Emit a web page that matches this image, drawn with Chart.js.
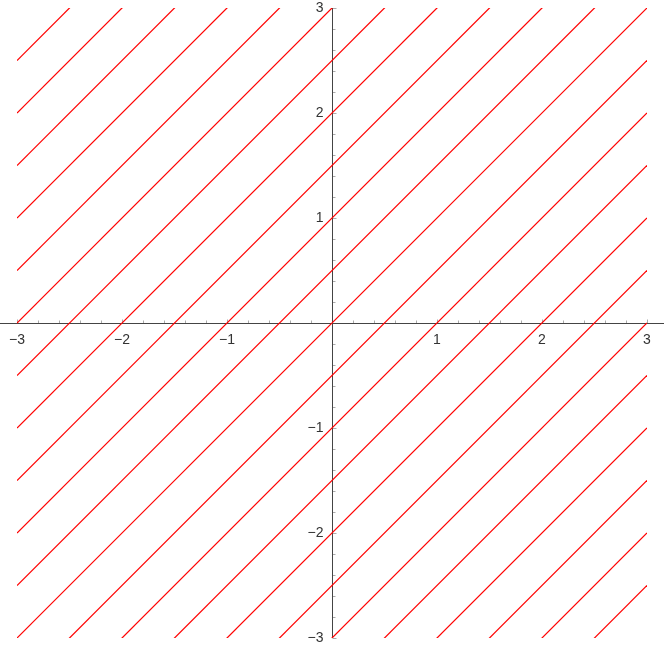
<!DOCTYPE html>
<html>
<head>
<meta charset="utf-8">
<script src="https://cdn.jsdelivr.net/npm/chart.js@4"></script>
<style>
  html, body { margin: 0; padding: 0; background: #fff; }
  #wrap { width: 664px; height: 654px; }
</style>
</head>
<body>
<div id="wrap"><canvas id="plot" width="664" height="654"></canvas></div>
<script>
// intercepts c of the lines y = x + c
const intercepts = [5.5, 5, 4.5, 4, 3.5, 3, 2.5, 2, 1.5, 1, 0.5, 0,
  -0.5, -1, -1.5, -2, -2.5, -3, -3.5, -4, -4.5, -5, -5.5];
const xRange = [-3, 3];
const yRange = [-3, 3];
const xTickLabels = [-3, -2, -1, 1, 2, 3];
const yTickLabels = [-3, -2, -1, 1, 2, 3];
const minorStep = 0.2;
const lineColor = 'rgb(255, 0, 0)';

const fmt = v => (v < 0 ? '\u2212' + Math.abs(v) : String(v));

// axes through the origin, drawn under the lines
const crossAxes = {
  id: 'crossAxes',
  beforeDatasetsDraw(chart) {
    const { ctx, scales: { x, y }, width } = chart;
    const x0 = Math.round(x.getPixelForValue(0)) + 0.5;
    const y0 = Math.round(y.getPixelForValue(0)) + 0.5;
    ctx.save();
    ctx.lineWidth = 1;

    // ticks
    ctx.strokeStyle = '#aaa';
    const n = Math.round((xRange[1] - xRange[0]) / minorStep);
    for (let i = 0; i <= n; i++) {
      const v = xRange[0] + i * minorStep;
      if (Math.abs(v) < 1e-9) continue;
      const major = Math.abs(v - Math.round(v)) < 1e-9;
      const len = major ? 4 : 3;
      const px = Math.round(x.getPixelForValue(v)) + 0.5;
      ctx.beginPath();
      ctx.moveTo(px, y0);
      ctx.lineTo(px, y0 - len);
      ctx.stroke();
      const py = Math.round(y.getPixelForValue(v)) + 0.5;
      ctx.beginPath();
      ctx.moveTo(x0, py);
      ctx.lineTo(x0 + len, py);
      ctx.stroke();
    }

    // axis lines
    ctx.strokeStyle = '#444';
    ctx.beginPath();
    ctx.moveTo(0, y0);
    ctx.lineTo(width, y0);
    ctx.stroke();
    ctx.beginPath();
    ctx.moveTo(x0, y.getPixelForValue(yRange[1]));
    ctx.lineTo(x0, y.getPixelForValue(yRange[0]));
    ctx.stroke();

    // labels
    ctx.fillStyle = '#333';
    ctx.font = '14px "Liberation Sans", Arial, sans-serif';
    ctx.textAlign = 'center';
    ctx.textBaseline = 'middle';
    xTickLabels.forEach(v => {
      ctx.fillText(fmt(v), x.getPixelForValue(v), y0 + 17);
    });
    ctx.textAlign = 'right';
    yTickLabels.forEach(v => {
      ctx.fillText(fmt(v), x0 - 9, y.getPixelForValue(v));
    });
    ctx.restore();
  }
};

const datasets = intercepts.map(c => ({
  label: 'y = x + ' + c,
  data: [{ x: xRange[0], y: xRange[0] + c }, { x: xRange[1], y: xRange[1] + c }],
  borderColor: lineColor,
  backgroundColor: lineColor,
  borderWidth: 1.2,
  pointRadius: 0,
  tension: 0,
  showLine: true,
  fill: false
}));

new Chart(document.getElementById('plot').getContext('2d'), {
  type: 'scatter',
  data: { datasets },
  options: {
    responsive: false,
    animation: false,
    layout: { padding: { left: 17, right: 17, top: 8, bottom: 16 } },
    elements: { line: { borderColor: lineColor } },
    plugins: {
      colors: { enabled: false },
      legend: { display: false },
      tooltip: { enabled: false }
    },
    scales: {
      x: { type: 'linear', min: xRange[0], max: xRange[1], display: false },
      y: { type: 'linear', min: yRange[0], max: yRange[1], display: false }
    }
  },
  plugins: [crossAxes]
});
</script>
</body>
</html>
